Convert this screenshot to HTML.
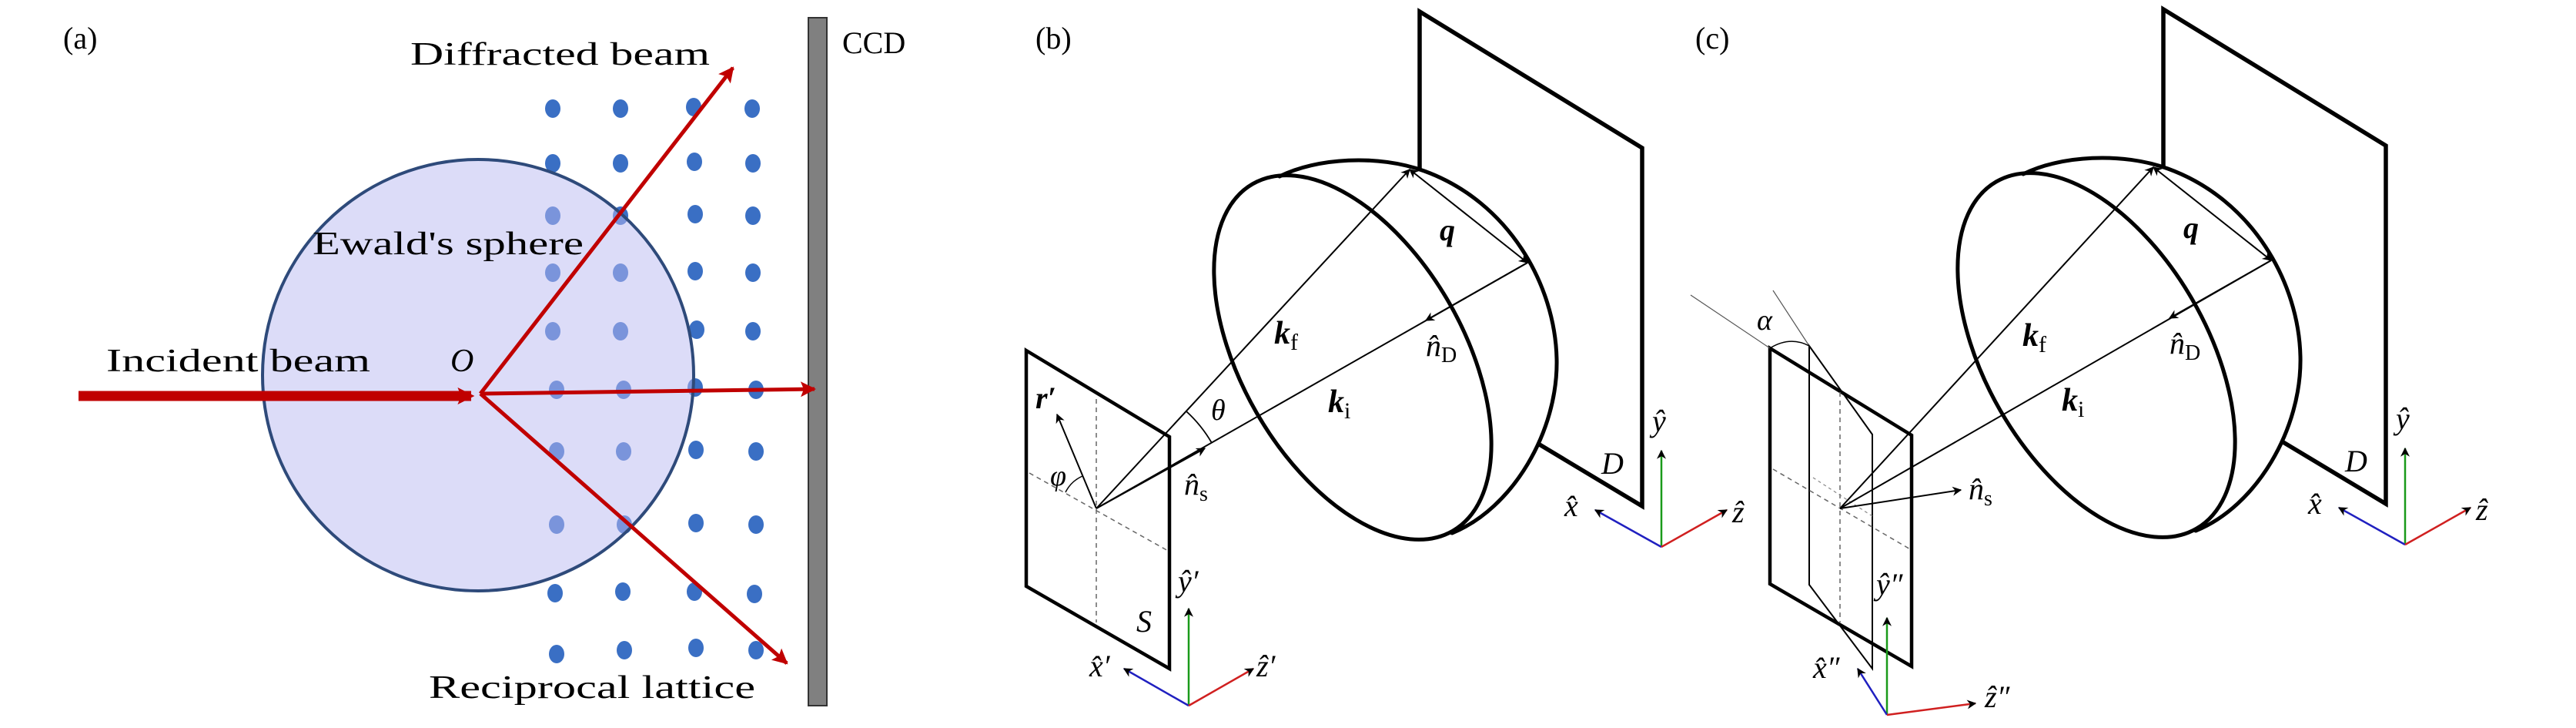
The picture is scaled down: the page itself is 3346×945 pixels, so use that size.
<!DOCTYPE html>
<html><head><meta charset="utf-8"><style>
html,body{margin:0;padding:0;background:#fff;}
svg{display:block;}
text{font-family:"Liberation Serif","DejaVu Serif",serif;fill:#000;}
.m{font-style:italic;}
.b{font-weight:bold;font-style:italic;}
</style></head><body>
<svg width="3346" height="945" viewBox="0 0 3346 945" xmlns="http://www.w3.org/2000/svg">
<defs>
<marker id="ahs" viewBox="0 0 10 10" refX="9" refY="5" markerUnits="userSpaceOnUse" markerWidth="16" markerHeight="12" orient="auto-start-reverse"><path d="M0,0 L10,5 L0,10 L3,5z" fill="#000"/></marker>
<marker id="ar" viewBox="0 0 10 10" refX="9" refY="5" markerUnits="userSpaceOnUse" markerWidth="26" markerHeight="20" orient="auto"><path d="M0,0 L10,5 L0,10 L2,5z" fill="#c00000"/></marker>
<marker id="arb" viewBox="0 0 10 10" refX="8" refY="5" markerUnits="userSpaceOnUse" markerWidth="22" markerHeight="30" orient="auto"><path d="M0,0 L10,5 L0,10 L2,5z" fill="#c00000"/></marker>
</defs>

<!-- ===== Panel (a) ===== -->
<text x="82" y="63" font-size="40">(a)</text>
<g fill="#3a6fc4">
<ellipse cx="718" cy="141" rx="10" ry="12"/><ellipse cx="806" cy="141" rx="10" ry="12"/><ellipse cx="901" cy="139" rx="10" ry="12"/><ellipse cx="977" cy="141" rx="10" ry="12"/>
<ellipse cx="718" cy="212" rx="10" ry="12"/><ellipse cx="806" cy="212" rx="10" ry="12"/><ellipse cx="902" cy="210" rx="10" ry="12"/><ellipse cx="978" cy="212" rx="10" ry="12"/>
<ellipse cx="718" cy="280" rx="10" ry="12"/><ellipse cx="806" cy="280" rx="10" ry="12"/><ellipse cx="903" cy="278" rx="10" ry="12"/><ellipse cx="978" cy="280" rx="10" ry="12"/>
<ellipse cx="718" cy="354" rx="10" ry="12"/><ellipse cx="806" cy="354" rx="10" ry="12"/><ellipse cx="903" cy="352" rx="10" ry="12"/><ellipse cx="978" cy="354" rx="10" ry="12"/>
<ellipse cx="718" cy="430" rx="10" ry="12"/><ellipse cx="806" cy="430" rx="10" ry="12"/><ellipse cx="905" cy="428" rx="10" ry="12"/><ellipse cx="978" cy="430" rx="10" ry="12"/>
<ellipse cx="723" cy="506" rx="10" ry="12"/><ellipse cx="810" cy="506" rx="10" ry="12"/><ellipse cx="903" cy="503" rx="10" ry="12"/><ellipse cx="982" cy="506" rx="10" ry="12"/>
<ellipse cx="723" cy="586" rx="10" ry="12"/><ellipse cx="810" cy="586" rx="10" ry="12"/><ellipse cx="904" cy="584" rx="10" ry="12"/><ellipse cx="982" cy="586" rx="10" ry="12"/>
<ellipse cx="723" cy="681" rx="10" ry="12"/><ellipse cx="811" cy="681" rx="10" ry="12"/><ellipse cx="904" cy="679" rx="10" ry="12"/><ellipse cx="982" cy="681" rx="10" ry="12"/>
<ellipse cx="721" cy="770" rx="10" ry="12"/><ellipse cx="809" cy="768" rx="10" ry="12"/><ellipse cx="902" cy="768" rx="10" ry="12"/><ellipse cx="980" cy="771" rx="10" ry="12"/>
<ellipse cx="723" cy="849" rx="10" ry="12"/><ellipse cx="811" cy="844" rx="10" ry="12"/><ellipse cx="904" cy="841" rx="10" ry="12"/><ellipse cx="982" cy="844" rx="10" ry="12"/>
</g>
<circle cx="621" cy="487" r="280" fill="#b9b9f1" fill-opacity="0.5"/>
<circle cx="621" cy="487" r="280" fill="none" stroke="#2e4a7a" stroke-width="4"/>
<rect x="1050" y="23" width="24" height="893" fill="#808080" stroke="#333" stroke-width="2"/>
<text x="1094" y="69" font-size="40">CCD</text>
<text x="533" y="84" font-size="42" textLength="389" lengthAdjust="spacingAndGlyphs">Diffracted beam</text>
<text x="406" y="330" font-size="42" textLength="352" lengthAdjust="spacingAndGlyphs">Ewald's sphere</text>
<text x="138" y="482" font-size="42" textLength="343" lengthAdjust="spacingAndGlyphs">Incident beam</text>
<text x="585" y="482" font-size="42" class="m">O</text>
<text x="557" y="906" font-size="42" textLength="424" lengthAdjust="spacingAndGlyphs">Reciprocal lattice</text>
<line x1="102" y1="514" x2="612" y2="514" stroke="#c00000" stroke-width="13" marker-end="url(#arb)"/>
<line x1="624" y1="511" x2="952" y2="88" stroke="#c00000" stroke-width="5" marker-end="url(#ar)"/>
<line x1="624" y1="511" x2="1058" y2="505" stroke="#c00000" stroke-width="5" marker-end="url(#ar)"/>
<line x1="624" y1="511" x2="1022" y2="861" stroke="#c00000" stroke-width="5" marker-end="url(#ar)"/>

<!-- ===== Panel (b) ===== -->
<text x="1345" y="63" font-size="40">(b)</text>
<g id="det">
<polyline points="1844,220 1844,15 2133,192 2133,657 1998,576" fill="none" stroke="#000" stroke-width="5.5" stroke-linejoin="miter"/>
<ellipse cx="1757" cy="464" rx="144" ry="260" transform="rotate(-30 1757 464)" fill="none" stroke="#000" stroke-width="5"/>
<path d="M1662,229 C1710,205 1790,200 1850,222 C1960,262 2020,370 2022,466 C2024,560 1965,660 1886,692" fill="none" stroke="#000" stroke-width="5" stroke-linecap="round"/>
<text x="2080" y="615" font-size="40" class="m">D</text>
<line x1="2158" y1="710" x2="2158" y2="585" stroke="#1a9a1a" stroke-width="2.5" marker-end="url(#ahs)"/>
<line x1="2158" y1="710" x2="2072" y2="662" stroke="#2020c0" stroke-width="2.5" marker-end="url(#ahs)"/>
<line x1="2158" y1="710" x2="2243" y2="662" stroke="#d02020" stroke-width="2.5" marker-end="url(#ahs)"/>
<text x="2146" y="560" font-size="40" class="m">ŷ</text>
<text x="2032" y="670" font-size="40" class="m">x̂</text>
<text x="2250" y="678" font-size="40" class="m">ẑ</text>
<line x1="1831" y1="220" x2="1984" y2="341" stroke="#000" stroke-width="2" marker-start="url(#ahs)" marker-end="url(#ahs)"/>
<line x1="1984" y1="341" x2="1852" y2="416" stroke="#000" stroke-width="2" marker-end="url(#ahs)"/>
<text x="1870" y="312" font-size="40" class="b">q</text>
<text x="1852" y="462" font-size="40" class="m">n̂<tspan font-size="28" font-style="normal" dy="8">D</tspan></text>
</g>
<polygon points="1333,455 1519,567 1519,868 1333,761" fill="none" stroke="#000" stroke-width="4.5"/>
<line x1="1424" y1="518" x2="1424" y2="808" stroke="#666" stroke-width="1.5" stroke-dasharray="6,5"/>
<line x1="1337" y1="614" x2="1519" y2="716" stroke="#666" stroke-width="1.5" stroke-dasharray="6,5"/>
<line x1="1424" y1="660" x2="1831" y2="220" stroke="#000" stroke-width="2" marker-end="url(#ahs)"/>
<line x1="1424" y1="660" x2="1984" y2="341" stroke="#000" stroke-width="2"/>
<line x1="1424" y1="660" x2="1565" y2="582" stroke="#000" stroke-width="2" marker-end="url(#ahs)"/>
<line x1="1424" y1="660" x2="1373" y2="538" stroke="#000" stroke-width="2" marker-end="url(#ahs)"/>
<path d="M1541,534 A172,172 0 0 1 1574,575" fill="none" stroke="#000" stroke-width="1.8"/>
<path d="M1384,639 A45,45 0 0 1 1406,618" fill="none" stroke="#000" stroke-width="1.5"/>
<text x="1345" y="530" font-size="40" class="b">r′</text>
<text x="1364" y="630" font-size="38" class="m">φ</text>
<text x="1573" y="545" font-size="38" class="m">θ</text>
<text x="1538" y="642" font-size="40" class="m">n̂<tspan font-size="28" font-style="normal" dy="8">s</tspan></text>
<text x="1655" y="446" font-size="42" class="b">k<tspan font-size="30" font-weight="normal" font-style="normal" dy="8">f</tspan></text>
<text x="1725" y="535" font-size="42" class="b">k<tspan font-size="30" font-weight="normal" font-style="normal" dy="8">i</tspan></text>
<text x="1476" y="820" font-size="40" class="m">S</text>
<line x1="1544" y1="916" x2="1544" y2="790" stroke="#1a9a1a" stroke-width="2.5" marker-end="url(#ahs)"/>
<line x1="1544" y1="916" x2="1460" y2="868" stroke="#2020c0" stroke-width="2.5" marker-end="url(#ahs)"/>
<line x1="1544" y1="916" x2="1628" y2="868" stroke="#d02020" stroke-width="2.5" marker-end="url(#ahs)"/>
<text x="1530" y="768" font-size="40" class="m">ŷ′</text>
<text x="1415" y="878" font-size="40" class="m">x̂′</text>
<text x="1632" y="878" font-size="40" class="m">ẑ′</text>

<!-- ===== Panel (c) ===== -->
<text x="2202" y="63" font-size="40">(c)</text>
<use href="#det" transform="translate(966,-3)"/>
<polygon points="2299,452 2483,565 2483,865 2299,758" fill="none" stroke="#000" stroke-width="4.5"/>
<polygon points="2350,449 2432,564 2432,868 2350,759" fill="none" stroke="#000" stroke-width="2"/>
<line x1="2196" y1="383" x2="2299" y2="452" stroke="#555" stroke-width="1.2"/>
<line x1="2303" y1="377" x2="2350" y2="449" stroke="#555" stroke-width="1.2"/>
<path d="M2299,452 Q2325,436 2350,449" fill="none" stroke="#000" stroke-width="1.5"/>
<text x="2282" y="428" font-size="38" class="m">α</text>
<line x1="2390" y1="509" x2="2390" y2="808" stroke="#666" stroke-width="1.5" stroke-dasharray="6,5"/>
<line x1="2303" y1="609" x2="2483" y2="714" stroke="#666" stroke-width="1.5" stroke-dasharray="6,5"/>
<line x1="2355" y1="620" x2="2432" y2="670" stroke="#888" stroke-width="1.2" stroke-dasharray="4,4"/>
<line x1="2390" y1="660" x2="2797" y2="217" stroke="#000" stroke-width="2" marker-end="url(#ahs)"/>
<line x1="2390" y1="660" x2="2950" y2="338" stroke="#000" stroke-width="2"/>
<line x1="2390" y1="660" x2="2547" y2="636" stroke="#000" stroke-width="2" marker-end="url(#ahs)"/>
<text x="2557" y="648" font-size="40" class="m">n̂<tspan font-size="28" font-style="normal" dy="8">s</tspan></text>
<text x="2627" y="449" font-size="42" class="b">k<tspan font-size="30" font-weight="normal" font-style="normal" dy="8">f</tspan></text>
<text x="2678" y="533" font-size="42" class="b">k<tspan font-size="30" font-weight="normal" font-style="normal" dy="8">i</tspan></text>
<line x1="2451" y1="928" x2="2451" y2="802" stroke="#1a9a1a" stroke-width="2.5" marker-end="url(#ahs)"/>
<line x1="2451" y1="928" x2="2413" y2="868" stroke="#2020c0" stroke-width="2.5" marker-end="url(#ahs)"/>
<line x1="2451" y1="928" x2="2566" y2="913" stroke="#d02020" stroke-width="2.5" marker-end="url(#ahs)"/>
<text x="2437" y="772" font-size="40" class="m">ŷ″</text>
<text x="2355" y="880" font-size="40" class="m">x̂″</text>
<text x="2578" y="918" font-size="40" class="m">ẑ″</text>
</svg>
</body></html>
